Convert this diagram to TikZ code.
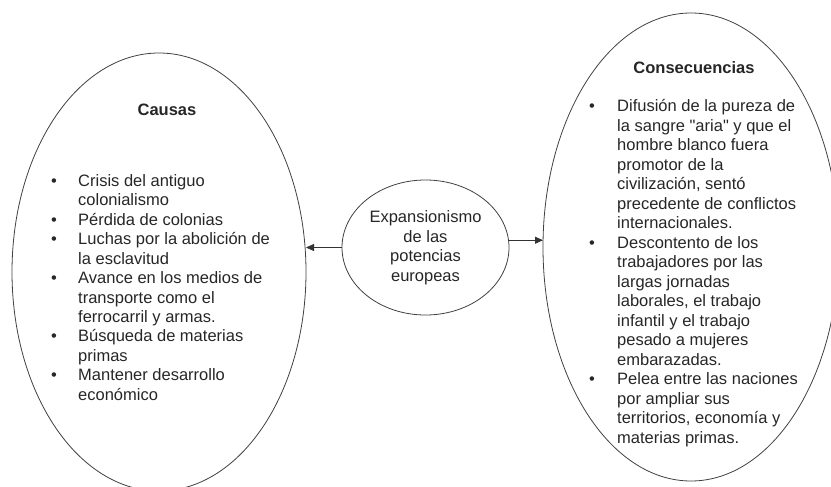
\documentclass[tikz,border=0pt]{standalone}
\usepackage{fontspec}
\setmainfont{Liberation Sans}[Ligatures=TeXOff]
\usetikzlibrary{arrows.meta, shapes.geometric}

\begin{document}
\begin{tikzpicture}[
    x=1pt, y=-1pt,
    >={Triangle[length=8pt, width=7pt]},
    oval/.style={ellipse, draw=black!75, line width=0.8pt, inner sep=0pt, outer sep=0pt},
    heading/.style={font=\fontsize{16.5}{19.5}\selectfont\bfseries, text=black!85, anchor=base},
    listtext/.style={font=\fontsize{16.5}{19.5}\selectfont, text=black!85, anchor=base west, inner sep=0pt},
    link/.style={->, black!80, line width=0.8pt},
]

\useasboundingbox (0,0) rectangle (831,487);
\clip (0,0) rectangle (831,487);

% the three ellipses
\node[oval, minimum width=294pt, minimum height=438pt] (causas) at (159,272) {};
\node[oval, minimum width=296pt, minimum height=468pt] (consec) at (691,247) {};
\node[oval, minimum width=167pt, minimum height=135pt, align=center,
      font=\fontsize{16.5}{19.5}\selectfont, text=black!85] (expan) at (425.5,247.5)
    {Expansionismo\\de las\\potencias\\europeas};

% arrows out of the centre
\draw[link] (expan.west) -- (expan.west -| causas.east);
\draw[link] (expan.5) -- (expan.5 -| consec.west);

% Causas
\node[heading] (causastitle) at (167,115) {Causas};
\node[listtext] (causaslist) at (51,186) {%
    \begin{tabular}[t]{@{}p{27pt}@{}l@{}}
    \textbullet & Crisis del antiguo\\
                & colonialismo\\
    \textbullet & Pérdida de colonias\\
    \textbullet & Luchas por la abolición de\\
                & la esclavitud\\
    \textbullet & Avance en los medios de\\
                & transporte como el\\
                & ferrocarril y armas.\\
    \textbullet & Búsqueda de materias\\
                & primas\\
    \textbullet & Mantener desarrollo\\
                & económico
    \end{tabular}};

% Consecuencias
\node[heading] (consectitle) at (694,74) {Consecuencias};
\node[listtext] (conseclist) at (589,112) {%
    \begin{tabular}[t]{@{}p{28pt}@{}l@{}}
    \textbullet & Difusión de la pureza de\\
                & la sangre "aria" y que el\\
                & hombre blanco fuera\\
                & promotor de la\\
                & civilización, sentó\\
                & precedente de conflictos\\
                & internacionales.\\
    \textbullet & Descontento de los\\
                & trabajadores por las\\
                & largas jornadas\\
                & laborales, el trabajo\\
                & infantil y el trabajo\\
                & pesado a mujeres\\
                & embarazadas.\\
    \textbullet & Pelea entre las naciones\\
                & por ampliar sus\\
                & territorios, economía y\\
                & materias primas.
    \end{tabular}};

\end{tikzpicture}
\end{document}
